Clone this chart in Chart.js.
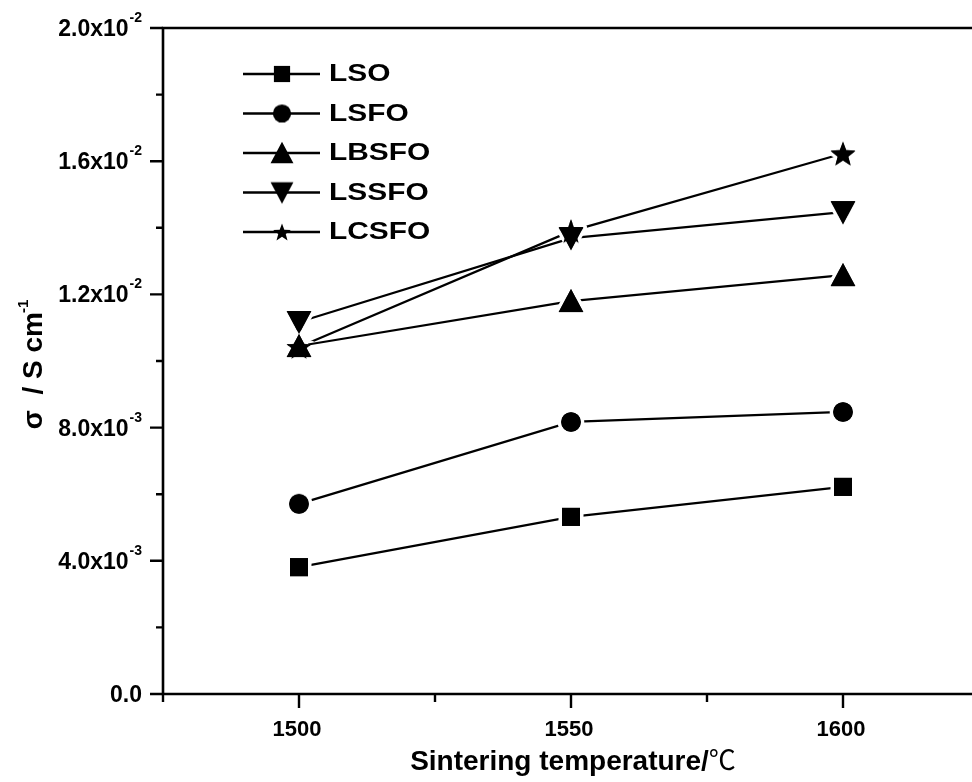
<!DOCTYPE html>
<html><head><meta charset="utf-8">
<script src="https://cdn.jsdelivr.net/npm/chart.js@4.4.1/dist/chart.umd.min.js"></script>
<style>html,body{margin:0;padding:0;background:#fff;overflow:hidden;width:972px;height:782px}canvas{display:block}</style>
</head><body>
<canvas id="c" width="1000" height="782"></canvas>
<script>
// ---------------- data ----------------
const temperatures = [1500, 1550, 1600];
const seriesNames = ['LSO', 'LSFO', 'LBSFO', 'LSSFO', 'LCSFO'];
const LSO   = [0.00381, 0.00532, 0.00622];
const LSFO  = [0.00571, 0.00817, 0.00847];
const LBSFO = [0.01045, 0.01180, 0.01258];
const LSSFO = [0.01117, 0.01369, 0.01447];
const LCSFO = [0.01042, 0.01390, 0.01623];
const xMajorTicks = [1500, 1550, 1600];
const xTickLabels = ['1500', '1550', '1600'];
const xMinorTicks = [1475, 1525, 1575, 1625];
const yMajorTicks = [0, 0.004, 0.008, 0.012, 0.016, 0.020];
const yTickMantissa = ['0.0', '4.0x10', '8.0x10', '1.2x10', '1.6x10', '2.0x10'];
const yTickExponent = ['', '-3', '-3', '-2', '-2', '-2'];
const yMinorTicks = [0.002, 0.006, 0.010, 0.014, 0.018];
const xAxisTitle = 'Sintering temperature/';
const xAxisUnit = '\u2103';
const yAxisTitle = '\u03c3  / S cm';
const yAxisTitleSup = '-1';
const markerKinds = ['square', 'circle', 'triangle', 'triangleDown', 'star'];
const seriesValues = [LSO, LSFO, LBSFO, LSSFO, LCSFO];

// ---------------- markers ----------------
const FONT = '"Liberation Sans", Arial, "Noto Sans", sans-serif';
function shapePath(g, kind, s) {
  g.beginPath();
  if (kind === 'square') { g.rect(-9 * s, -9 * s, 18 * s, 18 * s); }
  else if (kind === 'circle') { g.arc(0, 0, 9.8 * s, 0, Math.PI * 2); }
  else if (kind === 'triangle') { g.moveTo(0, -12 * s); g.lineTo(12.3 * s, 11 * s); g.lineTo(-12.3 * s, 11 * s); g.closePath(); }
  else if (kind === 'triangleDown') { g.moveTo(0, 12 * s); g.lineTo(12.3 * s, -11 * s); g.lineTo(-12.3 * s, -11 * s); g.closePath(); }
  else if (kind === 'star') {
    const R = 13 * s, r = R * 0.42, oy = 1.2 * s;
    for (let k = 0; k < 10; k++) {
      const a = -Math.PI / 2 + k * Math.PI / 5;
      const rr = k % 2 === 0 ? R : r;
      const px = Math.cos(a) * rr, py = Math.sin(a) * rr + oy;
      if (k === 0) g.moveTo(px, py); else g.lineTo(px, py);
    }
    g.closePath();
  }
}
function makeMarker(kind, halo, s) {
  const c = document.createElement('canvas');
  c.width = 44; c.height = 44;
  const g = c.getContext('2d');
  g.translate(22, 22);
  shapePath(g, kind, s);
  if (halo) { g.lineWidth = halo * 2; g.strokeStyle = '#fff'; g.lineJoin = 'round'; g.stroke(); }
  g.fillStyle = '#000';
  g.fill();
  return c;
}
const haloMarkers = markerKinds.map(k => makeMarker(k, 3.5, 1));
const solidMarkers = markerKinds.map(k => makeMarker(k, 0, 1));
const legendMarkers = markerKinds.map(k => makeMarker(k, 0, k === 'star' ? 0.72 : (k === 'square' ? 0.9 : 0.93)));

// ---------------- plugins ----------------
const redrawMarkers = {
  id: 'redrawMarkers',
  afterDatasetsDraw(chart) {
    const ctx = chart.ctx;
    chart.data.datasets.forEach((ds, i) => {
      const meta = chart.getDatasetMeta(i);
      meta.data.forEach(el => {
        ctx.drawImage(solidMarkers[i], el.x - 22, el.y - 22);
      });
    });
  }
};

const frame = {
  id: 'frame',
  afterDraw(chart) {
    const ctx = chart.ctx, ca = chart.chartArea;
    const xs = chart.scales.x, ys = chart.scales.y;
    ctx.save();
    ctx.strokeStyle = '#000';
    ctx.fillStyle = '#000';
    ctx.lineCap = 'butt';
    // axis frame
    ctx.lineWidth = 2.6;
    ctx.beginPath();
    ctx.moveTo(ca.left, ca.top); ctx.lineTo(ca.right, ca.top);
    ctx.moveTo(ca.left, ca.bottom); ctx.lineTo(ca.right, ca.bottom);
    ctx.moveTo(ca.left, ca.top - 1.3); ctx.lineTo(ca.left, ca.bottom + 1.3);
    ctx.moveTo(ca.right, ca.top - 1.3); ctx.lineTo(ca.right, ca.bottom + 1.3);
    ctx.stroke();
    // y ticks
    ctx.lineWidth = 2.4;
    ctx.beginPath();
    yMajorTicks.forEach(v => { const p = ys.getPixelForValue(v); ctx.moveTo(ca.left - 13, p); ctx.lineTo(ca.left, p); });
    yMinorTicks.forEach(v => { const p = ys.getPixelForValue(v); ctx.moveTo(ca.left - 7, p); ctx.lineTo(ca.left, p); });
    // x ticks
    xMajorTicks.forEach(v => { const p = xs.getPixelForValue(v); ctx.moveTo(p, ca.bottom); ctx.lineTo(p, ca.bottom + 14); });
    xMinorTicks.forEach(v => { const p = xs.getPixelForValue(v); ctx.moveTo(p, ca.bottom); ctx.lineTo(p, ca.bottom + 8); });
    ctx.stroke();

    // y tick labels
    const rightEdge = ca.left - 21;
    yMajorTicks.forEach((v, i) => {
      const p = ys.getPixelForValue(v);
      ctx.font = 'bold 14px ' + FONT;
      const ew = yTickExponent[i] ? ctx.measureText(yTickExponent[i]).width : 0;
      ctx.textAlign = 'left';
      ctx.textBaseline = 'alphabetic';
      if (ew) ctx.fillText(yTickExponent[i], rightEdge - ew, p - 6);
      ctx.font = 'bold 23px ' + FONT;
      ctx.textAlign = 'right';
      ctx.fillText(yTickMantissa[i], rightEdge - ew - (ew ? 1 : 0), p + 8);
    });
    // x tick labels
    ctx.font = 'bold 22px ' + FONT;
    ctx.textAlign = 'center';
    ctx.textBaseline = 'alphabetic';
    xMajorTicks.forEach((v, i) => {
      const p = xs.getPixelForValue(v);
      ctx.fillText(xTickLabels[i], p - 2, ca.bottom + 42);
    });

    // x title
    ctx.font = 'bold 28px ' + FONT;
    const w1 = ctx.measureText(xAxisTitle).width;
    ctx.font = '27px "Noto Sans CJK SC", "DejaVu Sans", sans-serif';
    const w2 = ctx.measureText(xAxisUnit).width;
    const xStart = 573 - (w1 + w2) / 2;
    ctx.textAlign = 'left';
    ctx.font = 'bold 28px ' + FONT;
    ctx.fillText(xAxisTitle, xStart, 770);
    ctx.font = '27px "Noto Sans CJK SC", "DejaVu Sans", sans-serif';
    ctx.fillText(xAxisUnit, xStart + w1, 770);

    // y title (rotated)
    ctx.save();
    ctx.translate(32, 364);
    ctx.rotate(-Math.PI / 2);
    ctx.font = 'bold 28px ' + FONT;
    const t1 = ctx.measureText(yAxisTitle).width;
    ctx.font = 'bold 15px ' + FONT;
    const t2 = ctx.measureText(yAxisTitleSup).width;
    const s0 = -(t1 + t2) / 2;
    ctx.textAlign = 'left';
    ctx.font = 'bold 28px ' + FONT;
    ctx.fillText(yAxisTitle, s0, 10);
    ctx.font = 'bold 15px ' + FONT;
    ctx.fillText(yAxisTitleSup, s0 + t1 - 1, -4);
    ctx.restore();

    // legend
    seriesNames.forEach((name, i) => {
      const y = 74 + i * 39.5;
      ctx.lineWidth = 2.4;
      ctx.beginPath();
      ctx.moveTo(243, y); ctx.lineTo(320, y);
      ctx.stroke();
      ctx.drawImage(legendMarkers[i], 282 - 22, y - 22);
      ctx.save();
      ctx.translate(329, y + 1);
      ctx.scale(1.3, 1);
      ctx.font = 'bold 23px ' + FONT;
      ctx.textAlign = 'left';
      ctx.textBaseline = 'middle';
      ctx.fillText(name, 0, 0);
      ctx.restore();
    });
    ctx.restore();
  }
};

// ---------------- chart ----------------
const CANVAS_W = 1000, CANVAS_H = 782;
new Chart(document.getElementById('c'), {
  type: 'line',
  data: {
    datasets: seriesNames.map((name, i) => ({
      label: name,
      data: temperatures.map((t, j) => ({ x: t, y: seriesValues[i][j] })),
      borderColor: '#000',
      backgroundColor: '#000',
      borderWidth: 2.2,
      fill: false,
      tension: 0,
      pointStyle: haloMarkers[i],
      pointRadius: 10,
      pointHoverRadius: 10
    }))
  },
  options: {
    responsive: false,
    animation: false,
    events: [],
    layout: { padding: { left: 163, top: 28, right: CANVAS_W - 979, bottom: CANVAS_H - 694 } },
    plugins: { legend: { display: false }, tooltip: { enabled: false } },
    scales: {
      x: { type: 'linear', min: 1475, max: 1625, display: false },
      y: { type: 'linear', min: 0, max: 0.02, display: false }
    }
  },
  plugins: [redrawMarkers, frame]
});
</script>
</body></html>
